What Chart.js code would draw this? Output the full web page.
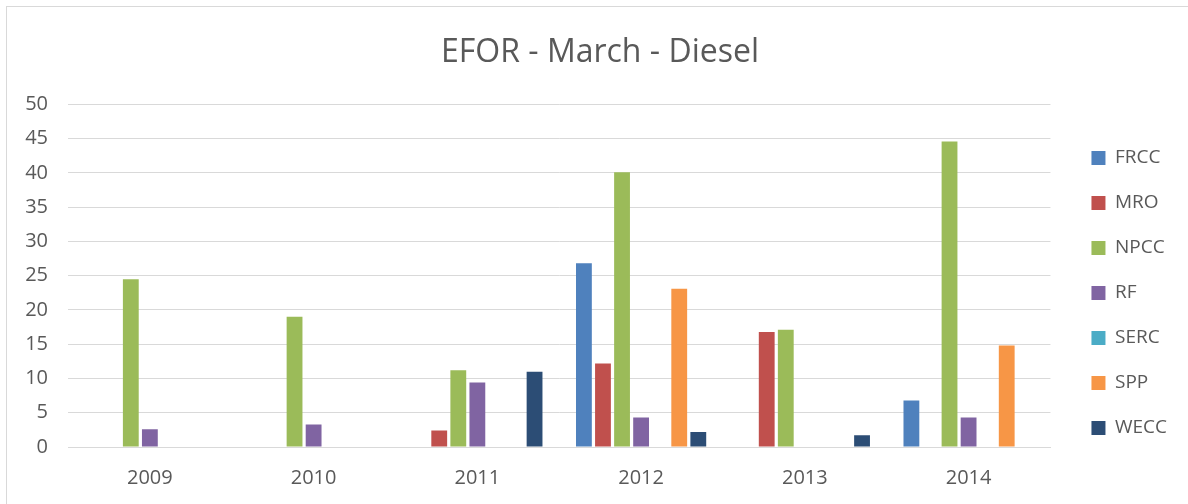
<!DOCTYPE html>
<html><head><meta charset="utf-8">
<script src="https://cdn.jsdelivr.net/npm/chart.js@4.4.1/dist/chart.umd.min.js"></script>
<style>html,body{margin:0;padding:0;background:#fff;overflow:hidden}#wrap{width:1188px;height:504px}</style>
</head><body><div id="wrap"><canvas id="c" width="1188" height="504"></canvas></div>
<script>
const years = ['2009', '2010', '2011', '2012', '2013', '2014'];
const seriesNames = ['FRCC', 'MRO', 'NPCC', 'RF', 'SERC', 'SPP', 'WECC'];
const FRCC = [null, null, null, 26.8, null, 6.8];
const MRO  = [null, null, 2.4, 12.2, 16.8, null];
const NPCC = [24.5, 19.0, 11.2, 40.1, 17.1, 44.6];
const RF   = [2.6, 3.3, 9.4, 4.3, null, 4.3];
const SERC = [null, null, null, null, null, null];
const SPP  = [null, null, null, 23.1, null, 14.8];
const WECC = [null, null, 11.0, 2.2, 1.7, null];
const yTickValues = [0, 5, 10, 15, 20, 25, 30, 35, 40, 45, 50];
const colors = ['#4f81bd', '#c0504d', '#9bbb59', '#8064a2', '#4bacc6', '#f79646', '#2c4d75'];
const values = [FRCC, MRO, NPCC, RF, SERC, SPP, WECC];

Chart.defaults.font.family = '"Open Sans", sans-serif';
Chart.defaults.color = '#595959';

const frame = {
  id: 'frame',
  beforeDraw(chart) {
    const ctx = chart.ctx;
    ctx.save();
    ctx.fillStyle = '#fff';
    ctx.fillRect(0, 0, chart.width, chart.height);
    ctx.strokeStyle = '#d9d9d9';
    ctx.lineWidth = 1;
    ctx.strokeRect(6.5, 6.5, 1200, 600);
    ctx.restore();
  }
};

new Chart(document.getElementById('c'), {
  type: 'bar',
  data: {
    labels: years,
    datasets: seriesNames.map((n, i) => ({
      label: n,
      data: values[i],
      backgroundColor: colors[i],
      borderColor: colors[i],
      borderWidth: 0,
      categoryPercentage: 0.815,
      barPercentage: 0.83
    }))
  },
  options: {
    responsive: false,
    animation: false,
    devicePixelRatio: 1,
    layout: { padding: { left: 12, right: 0, top: 0, bottom: 0 } },
    plugins: {
      title: {
        display: true,
        text: 'EFOR - March - Diesel',
        color: '#595959',
        font: { size: 32, weight: 'normal' },
        padding: { top: 34, bottom: 32 }
      },
      legend: {
        position: 'right',
        title: { display: true, text: '', font: { size: 10 }, padding: { top: 70, bottom: 0 } },
        labels: {
          font: { size: 19 },
          color: '#595959',
          boxWidth: 14,
          boxHeight: 14,
          padding: 26
        }
      },
      tooltip: { enabled: false }
    },
    scales: {
      x: {
        grid: { display: false, drawTicks: false },
        border: { display: true, color: '#d9d9d9', width: 1 },
        ticks: { font: { size: 20 }, color: '#595959', padding: 19 },
        afterFit: (s) => { s.height = 57; }
      },
      y: {
        min: 0,
        max: 50,
        afterBuildTicks: (s) => { s.ticks = yTickValues.map(v => ({ value: v })); },
        grid: { color: '#d9d9d9', lineWidth: 1, drawTicks: false },
        border: { display: false },
        ticks: { font: { size: 20 }, color: '#595959', padding: 20 },
        afterFit: (s) => { s.width = 56; }
      },
      gap: {
        type: 'linear',
        position: 'right',
        display: true,
        grid: { display: false, drawTicks: false },
        border: { display: false },
        ticks: { display: false },
        afterFit: (s) => { s.width = 15; }
      },
      edge: {
        type: 'linear',
        position: 'right',
        weight: 2000,
        display: true,
        grid: { display: false, drawTicks: false },
        border: { display: false },
        ticks: { display: false },
        afterFit: (s) => { s.width = 11; }
      }
    }
  },
  plugins: [frame]
});
</script></body></html>
